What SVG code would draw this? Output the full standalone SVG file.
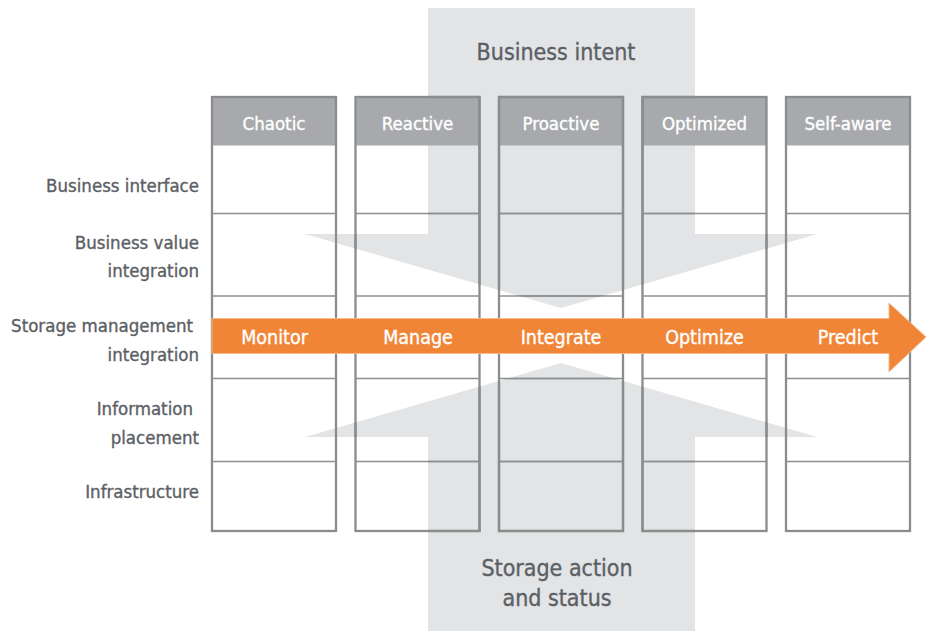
<svg xmlns="http://www.w3.org/2000/svg" width="926" height="631" viewBox="0 0 926 631">
<style>
  text { font-family: "DejaVu Sans Condensed", "DejaVu Sans", sans-serif; font-stretch: condensed; stroke-width: 0.35px; }
  .lbl { fill: #5b6065; stroke: #5b6065; font-size: 18.5px; text-anchor: end; }
  .title { fill: #5b6065; stroke: #5b6065; font-size: 23px; text-anchor: middle; }
  .hdr { fill: #a7a9ac; }
  .htxt { fill: #ffffff; stroke: #ffffff; font-size: 18.5px; text-anchor: middle; }
  .otxt { fill: #ffffff; stroke: #ffffff; font-size: 19.5px; text-anchor: middle; }
  .box { fill: none; stroke: #8a8c8e; stroke-width: 2.3; }
  .row { stroke: #8d8f91; stroke-width: 1.5; }
  .dark .box { stroke: #5e6469; }
  .dark .row { stroke: #60666b; }
</style>
<defs>
  <clipPath id="bandClip">
    <path d="M428,8 H695 V234 H817 L561,308 L305,234 H428 Z M561,363 L817,437 H695 V631 H428 V437 H305 Z"/>
  </clipPath>
  <g id="colShape">
    <rect class="box" x="0" y="97" width="124" height="434"/>
    <line class="row" x1="0" y1="213.5" x2="124" y2="213.5"/>
    <line class="row" x1="0" y1="296" x2="124" y2="296"/>
    <line class="row" x1="0" y1="378.5" x2="124" y2="378.5"/>
    <line class="row" x1="0" y1="461.5" x2="124" y2="461.5"/>
  </g>
</defs>
<rect x="0" y="0" width="926" height="631" fill="#ffffff"/>

<g id="band">
  <path d="M428,8 H695 V234 H817 L561,308 L305,234 H428 Z" fill="#e3e4e6"/>
  <path d="M561,363 L817,437 H695 V631 H428 V437 H305 Z" fill="#e3e4e6"/>
  <text class="title" x="556" y="60">Business intent</text>
  <text class="title" x="557" y="576">Storage action</text>
  <text class="title" x="557" y="606">and status</text>
</g>

<g id="row-labels">
  <text class="lbl" x="199" y="192">Business interface</text>
  <text class="lbl" x="199" y="248.5">Business value</text>
  <text class="lbl" x="199" y="277">integration</text>
  <text class="lbl" x="193" y="332">Storage management</text>
  <text class="lbl" x="199" y="360.5">integration</text>
  <text class="lbl" x="193" y="415">Information</text>
  <text class="lbl" x="199" y="443.5">placement</text>
  <text class="lbl" x="199" y="497.5">Infrastructure</text>
</g>

<g id="col-chaotic">
  <rect class="hdr" x="212" y="97" width="124" height="48.5"/>
  <use href="#colShape" x="212"/>
  <text class="htxt" x="274" y="130">Chaotic</text>
</g>
<g id="col-reactive">
  <rect class="hdr" x="355.5" y="97" width="124" height="48.5"/>
  <use href="#colShape" x="355.5"/>
  <text class="htxt" x="417.5" y="130">Reactive</text>
</g>
<g id="col-proactive">
  <rect class="hdr" x="499" y="97" width="124" height="48.5"/>
  <use href="#colShape" x="499"/>
  <text class="htxt" x="561" y="130">Proactive</text>
</g>
<g id="col-optimized">
  <rect class="hdr" x="642.5" y="97" width="124" height="48.5"/>
  <use href="#colShape" x="642.5"/>
  <text class="htxt" x="704.5" y="130">Optimized</text>
</g>
<g id="col-selfaware">
  <rect class="hdr" x="786" y="97" width="124" height="48.5"/>
  <use href="#colShape" x="786"/>
  <text class="htxt" x="848" y="130">Self-aware</text>
</g>

<g class="dark" clip-path="url(#bandClip)">
  <use href="#colShape" x="355.5"/>
  <use href="#colShape" x="499"/>
  <use href="#colShape" x="642.5"/>
</g>

<g id="connectors">
  <path d="M212,318.5 H889 V303 L926,337 L889,372 V353.5 H212 Z" fill="#f08537" stroke="#f6b98c" stroke-width="1"/>
  <text class="otxt" x="274.5" y="343.5">Monitor</text>
  <text class="otxt" x="418" y="343.5">Manage</text>
  <text class="otxt" x="561" y="343.5">Integrate</text>
  <text class="otxt" x="704.5" y="343.5">Optimize</text>
  <text class="otxt" x="848" y="343.5">Predict</text>
</g>
</svg>
